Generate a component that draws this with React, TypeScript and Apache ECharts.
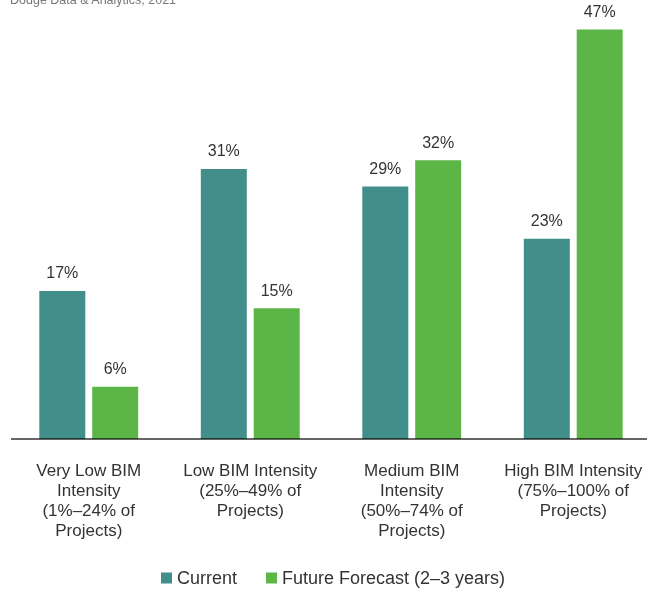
import React, { useEffect, useRef } from "react";
import * as echarts from "echarts";

const categories = [
  "Very Low BIM\nIntensity\n(1%–24% of\nProjects)",
  "Low BIM Intensity\n(25%–49% of\nProjects)",
  "Medium BIM\nIntensity\n(50%–74% of\nProjects)",
  "High BIM Intensity\n(75%–100% of\nProjects)",
];
const currentValues = [17, 31, 29, 23];
const futureValues = [6, 15, 32, 47];
const seriesNames = ["Current", "Future Forecast (2–3 years)"];
const sourceText = "Dodge Data & Analytics, 2021";

const FONT = "'Liberation Sans', Arial, sans-serif";
const TEAL = "#428e8b";
const GREEN = "#5cb547";

export default function App() {
  const ref = useRef<HTMLDivElement>(null);
  useEffect(() => {
    if (!ref.current) return;
    const chart = echarts.init(ref.current, null, { renderer: "svg" });
    const label = {
      show: true,
      position: "top",
      distance: 10,
      formatter: "{c}%",
      fontFamily: FONT,
      fontSize: 16,
      color: "#333",
    };
    chart.setOption({
      animation: false,
      textStyle: { fontFamily: FONT },
      grid: { left: 8, right: 3, top: 0, bottom: 150, containLabel: false },
      legend: {
        top: 564,
        left: 156,
        itemWidth: 11,
        itemHeight: 11,
        itemGap: 29,
        icon: "rect",
        textStyle: { fontFamily: FONT, fontSize: 18, color: "#333" },
        data: seriesNames,
      },
      xAxis: {
        type: "category",
        data: categories,
        axisLine: { show: false },
        axisTick: { show: false },
        axisLabel: {
          interval: 0,
          margin: 21,
          fontFamily: FONT,
          fontSize: 17,
          lineHeight: 20,
          color: "#333",
          align: "center",
        },
      },
      yAxis: { type: "value", min: 0, max: 50.4, show: false },
      graphic: [
        {
          type: "text",
          left: 10,
          top: -7,
          style: {
            text: sourceText,
            fontFamily: FONT,
            fontSize: 12.5,
            fill: "#777",
          },
        },
        {
          type: "line",
          z: 100,
          shape: { x1: 11, y1: 439, x2: 647, y2: 439 },
          style: { stroke: "rgba(0,0,0,0.6)", lineWidth: 2 },
        },
      ],
      series: [
        {
          name: seriesNames[0],
          type: "bar",
          data: currentValues,
          barWidth: 46,
          barGap: "15%",
          itemStyle: { color: TEAL },
          label,
        },
        {
          name: seriesNames[1],
          type: "bar",
          data: futureValues,
          barWidth: 46,
          barGap: "15%",
          itemStyle: { color: GREEN },
          label,
        },
      ],
    });
    return () => chart.dispose();
  }, []);
  return (
    <div
      ref={ref}
      style={{ position: "fixed", left: 0, top: 0, width: 657, height: 589 }}
    />
  );
}
